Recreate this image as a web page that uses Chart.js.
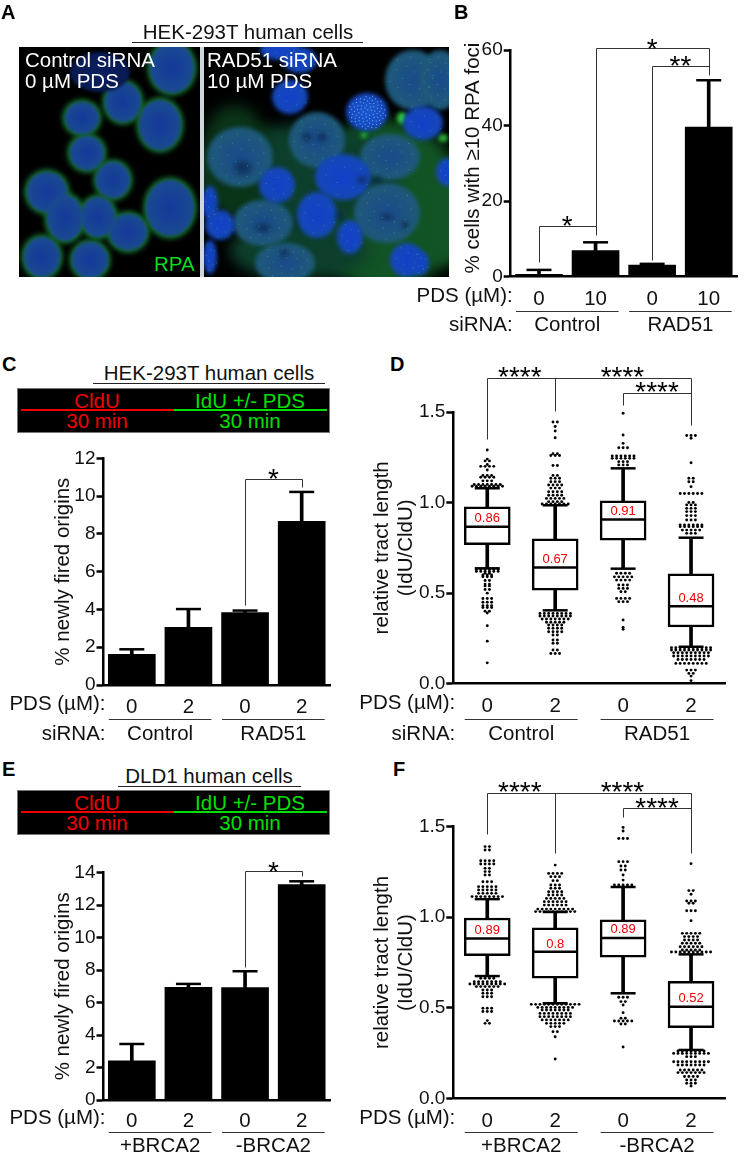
<!DOCTYPE html>
<html>
<head>
<meta charset="utf-8">
<script src="https://cdn.jsdelivr.net/npm/chart.js@4"></script>
<style>
  html, body { margin: 0; background: #fff; }
  #page { position: relative; width: 746px; height: 1160px; overflow: hidden; font-family: "Liberation Sans", Arial, sans-serif; font-size: 20.5px; color: #111; }
  #page canvas { position: absolute; }
  .t { position: absolute; white-space: nowrap; line-height: 1; transform: translateY(-50%); }
  .c { transform: translate(-50%, -50%); }
  .letter { font-weight: bold; font-size: 20px; color: #000; }
  .rule { position: absolute; background: #222; height: 1px; }
  .banner { position: absolute; left: 17px; width: 311px; background: #000; border: 1px solid #777; box-sizing: content-box; }
</style>
</head>
<body>
<div id="page">
  <canvas id="cells" width="746" height="290" style="left:0;top:0"></canvas>

  <div class="t letter" style="left:1px;top:12px">A</div>
  <div class="t letter" style="left:454px;top:12px">B</div>
  <div class="t letter" style="left:2px;top:364px">C</div>
  <div class="t letter" style="left:390px;top:364px">D</div>
  <div class="t letter" style="left:2px;top:769px">E</div>
  <div class="t letter" style="left:393px;top:769px">F</div>

  <div class="t c" style="left:248px;top:32px">HEK-293T human cells</div>
  <div class="rule" style="left:132px;top:42px;width:231px"></div>
  <div class="t" style="left:25px;top:60px;color:#fff">Control siRNA</div>
  <div class="t" style="left:25px;top:81px;color:#fff">0 µM PDS</div>
  <div class="t" style="left:207px;top:60px;color:#fff">RAD51 siRNA</div>
  <div class="t" style="left:207px;top:81px;color:#fff">10 µM PDS</div>
  <div class="t" style="left:154px;top:264px;color:#00e020">RPA</div>

  <div class="t c" style="left:209px;top:373px">HEK-293T human cells</div>
  <div class="rule" style="left:93px;top:383px;width:232px"></div>
  <div class="banner" style="top:388px;height:43px"></div>
  <div class="rule" style="left:21px;top:409px;width:153px;height:2px;background:#f00000"></div>
  <div class="rule" style="left:174px;top:409px;width:153px;height:2px;background:#00e000"></div>
  <div class="t c" style="left:97px;top:401px;color:#f00000">CldU</div>
  <div class="t c" style="left:97px;top:421px;color:#f00000">30 min</div>
  <div class="t c" style="left:250px;top:401px;color:#00e000">IdU +/- PDS</div>
  <div class="t c" style="left:250px;top:421px;color:#00e000">30 min</div>

  <div class="t c" style="left:209px;top:776px">DLD1 human cells</div>
  <div class="rule" style="left:118px;top:786px;width:183px"></div>
  <div class="banner" style="top:790px;height:43px"></div>
  <div class="rule" style="left:21px;top:811px;width:153px;height:2px;background:#f00000"></div>
  <div class="rule" style="left:174px;top:811px;width:153px;height:2px;background:#00e000"></div>
  <div class="t c" style="left:97px;top:803px;color:#f00000">CldU</div>
  <div class="t c" style="left:97px;top:823px;color:#f00000">30 min</div>
  <div class="t c" style="left:250px;top:803px;color:#00e000">IdU +/- PDS</div>
  <div class="t c" style="left:250px;top:823px;color:#00e000">30 min</div>

  <canvas id="panelB"></canvas>
  <canvas id="panelC"></canvas>
  <canvas id="panelD"></canvas>
  <canvas id="panelE"></canvas>
  <canvas id="panelF"></canvas>
</div>

<script>
// --- chart values ---
const pdsB = ['0', '10', '0', '10'];
const pdsCD = ['0', '2', '0', '2'];

const fociMeans = [0.6, 6.9, 3.1, 39.6];
const fociTops = [1.8, 9.1, 3.4, 52];

const firedC = [1.62, 3.05, 3.83, 8.66];
const firedCTops = [1.89, 4.02, 3.94, 10.22];

const firedE = [2.42, 6.94, 6.92, 13.27];
const firedETops = [3.45, 7.15, 7.93, 13.47];

// box stats per condition: low whisker, q1, median, q3, high whisker
const lowD = [0.637, 0.405, 0.635, 0.204];
const q1D = [0.768, 0.517, 0.793, 0.313];
const medD = [0.867, 0.642, 0.907, 0.427];
const q3D = [0.977, 0.80, 1.01, 0.606];
const highD = [1.079, 0.985, 1.189, 0.806];
const meanLabelsD = ['0.86', '0.67', '0.91', '0.48'];

const lowF = [0.675, 0.525, 0.58, 0.267];
const q1F = [0.788, 0.663, 0.78, 0.39];
const medF = [0.882, 0.81, 0.885, 0.506];
const q3F = [0.996, 0.942, 0.985, 0.646];
const highF = [1.10, 1.029, 1.167, 0.795];
const meanLabelsF = ['0.89', '0.8', '0.89', '0.52'];

// outliers as swarm rows: [value, how many dots on that row]
const dotsD1 = [[1.29,1],[1.24,1],[1.23,2],[1.21,1],[1.20,4],[1.18,1],[1.15,3],[1.14,4],[1.12,3],[1.10,7],[1.09,8],
  [0.63,6],[0.62,6],[0.61,2],[0.60,3],[0.59,3],[0.57,2],[0.55,2],[0.54,2],[0.52,2],[0.50,1],[0.47,3],[0.45,3],[0.43,3],[0.42,3],[0.40,2],[0.39,1],[0.32,1],[0.235,1],[0.115,1]];
const dotsD2 = [[1.445,2],[1.42,1],[1.395,1],[1.358,1],[1.27,2],[1.26,3],[1.205,2],[1.15,2],[1.134,3],[1.115,3],[1.097,4],[1.08,3],[1.06,4],[1.04,4],[1.023,5],[1.005,4],[0.992,7],
  [0.388,8],[0.374,8],[0.357,7],[0.339,5],[0.324,4],[0.306,4],[0.287,4],[0.269,2],[0.241,2],[0.223,2],[0.186,2],[0.167,3]];
const dotsD3 = [[1.493,1],[1.373,1],[1.327,1],[1.303,3],[1.257,6],[1.244,6],[1.226,3],[1.208,3],
  [0.61,4],[0.59,5],[0.572,4],[0.545,3],[0.526,3],[0.508,2],[0.471,4],[0.453,3],[0.352,1],[0.311,1],[0.30,1]];
const dotsD4 = [[1.37,3],[1.355,1],[1.22,1],[1.134,2],[1.115,2],[1.088,1],[1.05,6],[1.0,2],[0.987,3],[0.968,3],[0.95,3],[0.928,3],[0.904,3],[0.876,6],[0.867,6],[0.848,5],[0.83,3],
  [0.199,10],[0.186,10],[0.171,9],[0.153,9],[0.134,7],[0.112,8],[0.075,3],[0.057,2],[0.042,1],[0.017,1]];

const dotsF1 = [[1.39,2],[1.371,2],[1.312,4],[1.294,4],[1.27,2],[1.252,2],[1.233,2],[1.196,3],[1.169,5],[1.15,5],[1.132,5],[1.114,8],
  [0.663,4],[0.644,7],[0.631,9],[0.617,6],[0.598,3],[0.58,3],[0.561,3],[0.497,3],[0.479,3],[0.429,1],[0.414,2]];
const dotsF2 = [[1.288,1],[1.242,4],[1.224,3],[1.202,2],[1.178,3],[1.16,3],[1.141,4],[1.123,4],[1.104,5],[1.086,6],[1.067,6],[1.045,9],[1.031,10],
  [0.519,12],[0.502,9],[0.488,7],[0.469,8],[0.451,8],[0.433,7],[0.414,5],[0.396,3],[0.368,2],[0.34,1],[0.217,1]];
const dotsF3 = [[1.496,1],[1.476,1],[1.435,3],[1.307,3],[1.283,2],[1.261,2],[1.233,1],[1.205,1],[1.178,5],
  [0.558,3],[0.534,2],[0.515,1],[0.473,1],[0.442,2],[0.427,5],[0.41,2],[0.283,1]];
const dotsF4 = [[1.296,1],[1.147,2],[1.127,1],[1.09,3],[1.077,2],[1.036,3],[0.981,1],[0.911,5],[0.893,4],[0.874,4],[0.856,5],[0.837,6],[0.819,5],[0.808,10],
  [0.261,7],[0.248,9],[0.23,3],[0.202,9],[0.184,7],[0.156,6],[0.142,7],[0.12,4],[0.101,3],[0.083,3],[0.068,1]];

// --- chart.js setup ---
Chart.defaults.font.family = '"Liberation Sans", Arial, sans-serif';
Chart.defaults.color = '#111';
Chart.defaults.animation = false;

// stuff around the plots: brackets, stars, the rows under the x axis
const panelExtras = {
  id: 'panelExtras',
  afterDraw(chart, args, o) {
    const { ctx, chartArea, scales: { x, y } } = chart;
    ctx.save();
    ctx.strokeStyle = '#333';
    ctx.lineWidth = 1;
    (o.brackets || []).forEach(b => {
      ctx.beginPath();
      b.forEach((p, i) => {
        const px = Math.round(x.getPixelForValue(p[0])) + 0.5;
        const py = Math.round(y.getPixelForValue(p[1])) + 0.5;
        if (i) ctx.lineTo(px, py); else ctx.moveTo(px, py);
      });
      ctx.stroke();
    });
    ctx.fillStyle = '#000';
    ctx.font = '28px "Liberation Sans"';
    ctx.textAlign = 'center';
    ctx.textBaseline = 'alphabetic';
    (o.stars || []).forEach(s => {
      ctx.fillText(s[2], x.getPixelForValue(s[0]), y.getPixelForValue(s[1]) + 16);
    });

    ctx.fillStyle = '#111';
    ctx.font = '20.5px "Liberation Sans"';
    ctx.textBaseline = 'middle';
    ctx.textAlign = 'right';
    (o.rows || []).forEach(r => ctx.fillText(r[0], chartArea.left + 2, chartArea.bottom + r[1]));
    ctx.textAlign = 'center';
    (o.groups || []).forEach(g => {
      const a = x.getPixelForValue(g[0]) - o.half;
      const b = x.getPixelForValue(g[1]) + o.half;
      ctx.beginPath();
      ctx.moveTo(a, Math.round(chartArea.bottom + o.ruleY) + 0.5);
      ctx.lineTo(b, Math.round(chartArea.bottom + o.ruleY) + 0.5);
      ctx.stroke();
      ctx.fillText(g[2], (a + b) / 2, chartArea.bottom + o.groupY);
    });
    if (o.sideTitle) {
      // panel B's axis title sits a little above the middle of the axis
      ctx.save();
      ctx.translate(o.sideTitle[1], o.sideTitle[2]);
      ctx.rotate(-Math.PI / 2);
      ctx.fillText(o.sideTitle[0], 0, 0);
      ctx.restore();
    }
    ctx.fillStyle = '#f00000';
    ctx.font = '13px "Liberation Sans"';
    (o.values || []).forEach((v, i) => {
      ctx.fillText(v, x.getPixelForValue(i + 1), y.getPixelForValue(o.valueYs[i]));
    });
    ctx.restore();
  }
};

function makePanel(id, box, plot, yOpts, xLabels, datasets, extras) {
  const canvas = document.getElementById(id);
  canvas.width = box.w;
  canvas.height = box.h;
  canvas.style.left = box.x + 'px';
  canvas.style.top = box.y + 'px';
  return new Chart(canvas, {
    type: 'bar',
    data: { datasets: datasets },
    plugins: [panelExtras],
    options: {
      responsive: false,
      events: [],
      // autoPadding off, else the wide 'line' points shrink the plot
      layout: { autoPadding: false, padding: { left: plot.left - plot.yWidth - box.x, top: plot.top - box.y, right: box.x + box.w - plot.right, bottom: 0 } },
      plugins: { legend: { display: false }, tooltip: { enabled: false }, panelExtras: extras },
      scales: {
        x: {
          type: 'linear', min: 0.5, max: 4.5, offset: false,
          grid: { display: false },
          border: { display: true, color: '#000', width: 2.5 },
          ticks: { font: { size: 20.5 }, color: '#111', padding: plot.tickPad, maxRotation: 0, autoSkip: false, callback: (v, i) => xLabels[i] },
          afterBuildTicks: s => { s.ticks = [1, 2, 3, 4].map(v => ({ value: v })); },
          afterFit: s => {
            s.height = box.y + box.h - plot.bottom;
            s.paddingLeft = 0;
            s.paddingRight = 0;
          }
        },
        y: {
          min: yOpts.min, max: yOpts.max,
          grid: { drawOnChartArea: false, drawTicks: true, tickLength: 7, tickWidth: 2.5, tickColor: '#000' },
          border: { display: true, color: '#000', width: 2.5 },
          ticks: { stepSize: yOpts.step, font: { size: 19 }, color: '#111', padding: 1, callback: yOpts.fmt },
          title: { display: !!yOpts.title, text: yOpts.title, font: { size: 20.5 }, color: '#111', padding: 0 },
          afterFit: s => { s.width = plot.yWidth; }
        }
      }
    }
  });
}

function barDatasets(means, tops) {
  return [
    { type: 'bar', data: means.map((m, i) => ({ x: i + 1, y: m })), backgroundColor: '#000', barThickness: 47, grouped: false, order: 3 },
    { type: 'bar', data: means.map((m, i) => ({ x: i + 1, y: [m, tops[i]] })), backgroundColor: '#000', barThickness: 3, grouped: false, order: 2 },
    { type: 'scatter', data: tops.map((t, i) => ({ x: i + 1, y: t })), pointStyle: 'line', pointRadius: 12.5, pointBorderWidth: 2.5, pointBorderColor: '#000', clip: false, order: 1 }
  ];
}

// swarm: a row of n dots is centred on its condition
function swarm(rows, pos) {
  const pts = [];
  rows.forEach(r => {
    for (let k = 0; k < r[1]; k++) pts.push({ x: pos + (k - (r[1] - 1) / 2) * 0.064, y: r[0] });
  });
  return pts;
}

function boxDatasets(low, q1, med, q3, high, dots) {
  const at = arr => arr.map((v, i) => ({ x: i + 1, y: v }));
  const capStyle = { pointStyle: 'line', pointRadius: 12.5, pointBorderWidth: 2.5, pointBorderColor: '#000', clip: false, order: 1 };
  return [
    { type: 'bar', data: low.map((v, i) => ({ x: i + 1, y: [v, q1[i]] })), backgroundColor: '#000', barThickness: 3, grouped: false, order: 4 },
    { type: 'bar', data: high.map((v, i) => ({ x: i + 1, y: [q3[i], v] })), backgroundColor: '#000', barThickness: 3, grouped: false, order: 4 },
    { type: 'bar', data: q1.map((v, i) => ({ x: i + 1, y: [v, q3[i]] })), backgroundColor: '#fff', borderColor: '#000', borderWidth: 2.5, borderSkipped: false, barThickness: 46, grouped: false, order: 3 },
    { type: 'scatter', data: at(med), pointStyle: 'line', pointRadius: 22.5, pointBorderWidth: 2.5, pointBorderColor: '#000', order: 2 },
    Object.assign({ type: 'scatter', data: at(low) }, capStyle),
    Object.assign({ type: 'scatter', data: at(high) }, capStyle),
    { type: 'scatter', data: dots.flatMap((rows, i) => swarm(rows, i + 1)), pointRadius: 1.45, pointBorderWidth: 0, pointBackgroundColor: '#000', clip: false, order: 1 }
  ];
}

const intFmt = v => String(v);
const oneDec = v => v.toFixed(1);

makePanel('panelB', { x: 410, y: 0, w: 336, h: 340 },
  { left: 510.7, right: 737, top: 50, bottom: 276.7, yWidth: 49.5, tickPad: 2.5 },
  { min: 0, max: 60, step: 20, title: null, fmt: intFmt }, pdsB,
  barDatasets(fociMeans, fociTops),
  {
    half: 23, ruleY: 34, groupY: 49,
    rows: [['PDS (µM):', 20], ['siRNA:', 49]],
    groups: [[1, 2, 'Control'], [3, 4, 'RAD51']],
    brackets: [[[1, 3.9], [1, 13.4], [2, 13.4], [2, 11]], [[2, 13.4], [2, 60.4], [4, 60.4], [4, 53.4]], [[3, 4.4], [3, 55.8], [4, 55.8]]],
    stars: [[1.5, 15.2, '*'], [3, 62.2, '*'], [3.5, 57.7, '**']],
    sideTitle: ['% cells with ≥10 RPA foci', 63.5, 158]
  });

makePanel('panelC', { x: 0, y: 440, w: 350, h: 310 },
  { left: 103.5, right: 330, top: 458.3, bottom: 685, yWidth: 52, tickPad: 2.5 },
  { min: 0, max: 12, step: 2, title: '% newly fired origins', fmt: intFmt }, pdsCD,
  barDatasets(firedC, firedCTops),
  {
    half: 23, ruleY: 34.3, groupY: 49,
    rows: [['PDS (µM):', 19], ['siRNA:', 49]],
    groups: [[1, 2, 'Control'], [3, 4, 'RAD51']],
    brackets: [[[3, 4.23], [3, 10.9], [4, 10.9], [4, 10.46]]],
    stars: [[3.5, 11.28, '*']]
  });

makePanel('panelE', { x: 0, y: 840, w: 350, h: 320 },
  { left: 103.5, right: 330, top: 872.7, bottom: 1100, yWidth: 52, tickPad: 1.5 },
  { min: 0, max: 14, step: 2, title: '% newly fired origins', fmt: intFmt }, pdsCD,
  barDatasets(firedE, firedETops),
  {
    half: 23, ruleY: 31.7, groupY: 46.7,
    rows: [['PDS (µM):', 18]],
    groups: [[1, 2, '+BRCA2'], [3, 4, '-BRCA2']],
    brackets: [[[3, 8.2], [3, 14.1], [4, 14.1], [4, 13.8]]],
    stars: [[3.5, 14.5, '*']]
  });

makePanel('panelD', { x: 352, y: 360, w: 394, h: 390 },
  { left: 453.3, right: 725, top: 412, bottom: 683.7, yWidth: 83.6, tickPad: 2.5 },
  { min: 0, max: 1.5, step: 0.5, title: ['relative tract length', '(IdU/CldU)'], fmt: oneDec }, pdsCD,
  boxDatasets(lowD, q1D, medD, q3D, highD, [dotsD1, dotsD2, dotsD3, dotsD4]),
  {
    half: 22.5, ruleY: 35.6, groupY: 50.3,
    rows: [['PDS (µM):', 20], ['siRNA:', 50.3]],
    groups: [[1, 2, 'Control'], [3, 4, 'RAD51']],
    brackets: [[[1, 1.35], [1, 1.688], [4, 1.688], [4, 1.428]], [[2, 1.688], [2, 1.507]], [[3, 1.539], [3, 1.603], [4, 1.603]]],
    stars: [[1.48, 1.73, '****'], [2.99, 1.73, '****'], [3.5, 1.647, '****']],
    values: meanLabelsD, valueYs: [0.911, 0.687, 0.95, 0.471]
  });

makePanel('panelF', { x: 352, y: 770, w: 394, h: 390 },
  { left: 453.3, right: 725, top: 826.7, bottom: 1098.3, yWidth: 83.6, tickPad: 2.5 },
  { min: 0, max: 1.5, step: 0.5, title: ['relative tract length', '(IdU/CldU)'], fmt: oneDec }, pdsCD,
  boxDatasets(lowF, q1F, medF, q3F, highF, [dotsF1, dotsF2, dotsF3, dotsF4]),
  {
    half: 22.5, ruleY: 33.4, groupY: 48.4,
    rows: [['PDS (µM):', 19.7]],
    groups: [[1, 2, '+BRCA2'], [3, 4, '-BRCA2']],
    brackets: [[[1, 1.459], [1, 1.688], [4, 1.688], [4, 1.355]], [[2, 1.688], [2, 1.352]], [[3, 1.553], [3, 1.605], [4, 1.605]]],
    stars: [[1.48, 1.729, '****'], [2.99, 1.729, '****'], [3.5, 1.643, '****']],
    values: meanLabelsF, valueYs: [0.926, 0.85, 0.93, 0.549]
  });

// --- panel A is a micrograph, not data: painted roughly by hand ---
const leftCells = [[172,68,22,25],[123,102,18,20],[82,118,17,16],[160,125,21,25],[87,153,17,17],[113,180,17,18],[47,192,20,20],[170,208,24,28],[98,217,17,20],[65,218,18,23],[128,232,19,18],[42,257,18,20],[90,260,18,18]];
const rightGreen = [[385,205,80,85,'#125424'],[300,175,100,50,'#0d3f2c'],[235,160,35,55,'#0a3418'],[300,250,70,30,'#0d3f2c'],[445,215,30,50,'#125424'],[402,118,5,6,'#30d040'],[443,138,5,4,'#28b838'],[364,135,3,3,'#28b838']];
const rightDim = [[413,80,28,30],[240,157,33,30],[317,140,28,28],[263,223,30,23],[387,213,33,30],[285,263,30,20],[390,157,30,23],[440,80,20,30]];
const rightBright = [[290,97,18,17],[277,185,18,18],[343,177,28,23],[317,215,20,23],[210,203,8,17],[220,225,15,15],[350,237,13,17],[407,260,17,17],[210,257,7,17],[423,123,20,17],[300,60,17,13],[280,50,20,10],[448,172,12,14],[420,263,9,12]];
const speckled = [367,112,21,19];
const holes = [[243,168,11,9],[307,137,6,6],[322,137,6,6],[362,180,6,5],[387,217,8,4],[405,225,5,5],[263,228,9,6],[284,253,6,5],[340,216,6,6],[378,180,5,5]];

function blob(ctx, c, inner, outer) {
  const g = ctx.createRadialGradient(c[0], c[1], 0, c[0], c[1], 1);
  ctx.save();
  ctx.translate(c[0], c[1]);
  ctx.scale(c[2], c[3]);
  ctx.translate(-c[0], -c[1]);
  g.addColorStop(0, inner);
  g.addColorStop(1, outer);
  ctx.fillStyle = g;
  ctx.beginPath();
  ctx.arc(c[0], c[1], 1, 0, Math.PI * 2);
  ctx.fill();
  ctx.restore();
}

// evenly spread specks (sunflower pattern)
function specks(ctx, c, n, color) {
  ctx.fillStyle = color;
  for (let k = 1; k <= n; k++) {
    const r = Math.sqrt(k / n) * 0.9;
    const a = k * 2.39996;
    ctx.fillRect(c[0] + Math.cos(a) * r * c[2], c[1] + Math.sin(a) * r * c[3], 1, 1);
  }
}

function paintCells() {
  const ctx = document.getElementById('cells').getContext('2d');

  ctx.fillStyle = '#cfd6dc';
  ctx.fillRect(19, 47, 430, 230);

  ctx.save();
  ctx.beginPath();
  ctx.rect(19, 47, 181, 230);
  ctx.clip();
  ctx.fillStyle = '#000';
  ctx.fillRect(19, 47, 181, 230);
  ctx.filter = 'blur(2.5px)';
  leftCells.forEach(c => blob(ctx, [c[0], c[1], c[2] + 3, c[3] + 3], '#16702c', '#156a2a'));
  ctx.filter = 'blur(1.5px)';
  leftCells.forEach(c => blob(ctx, c, '#14389a', '#1a4a90'));
  blob(ctx, [100, 72, 30, 20], '#0a1f60', '#081a50');
  ctx.restore();

  ctx.save();
  ctx.beginPath();
  ctx.rect(204, 47, 245, 230);
  ctx.clip();
  ctx.fillStyle = '#000';
  ctx.fillRect(204, 47, 245, 230);
  ctx.filter = 'blur(7px)';
  rightGreen.slice(0, 5).forEach(c => blob(ctx, c, c[4], c[4]));
  ctx.filter = 'blur(2px)';
  rightGreen.slice(5).forEach(c => blob(ctx, c, c[4], c[4]));
  rightDim.forEach(c => blob(ctx, c, '#1a4a8c', '#1f5a78'));
  rightBright.forEach(c => blob(ctx, c, '#1240c8', '#1648b8'));
  blob(ctx, speckled, '#1a58d0', '#1648c0');
  holes.forEach(c => blob(ctx, c, 'rgba(10,30,70,0.8)', 'rgba(15,50,90,0.3)'));
  ctx.filter = 'none';
  rightDim.forEach(c => specks(ctx, c, 20, 'rgba(50,190,130,0.6)'));
  rightBright.forEach(c => specks(ctx, c, 8, 'rgba(50,170,190,0.6)'));
  specks(ctx, speckled, 80, 'rgba(150,215,240,0.75)');
  ctx.restore();
}
paintCells();
</script>
</body>
</html>
